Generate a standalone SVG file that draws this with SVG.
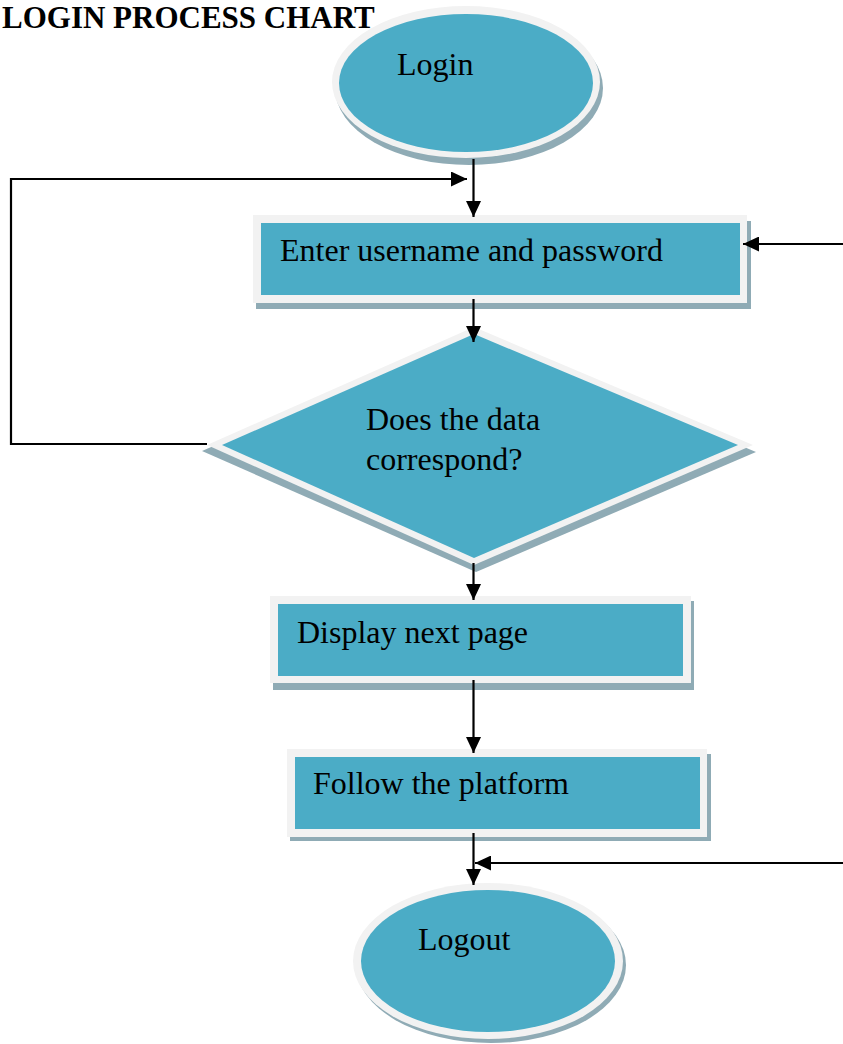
<svg xmlns="http://www.w3.org/2000/svg" width="843" height="1044" viewBox="0 0 843 1044">
<defs>
<style>
.t{font-family:"Liberation Serif","Times New Roman",serif;font-size:32px;fill:#000}
.title{font-family:"Liberation Serif","Times New Roman",serif;font-size:31px;font-weight:bold;fill:#000}
.blue{fill:#4BACC6}
.ring{fill:#F2F2F2}
.shadow{fill:#8FABB5}
.c{fill:none;stroke:#000;stroke-width:2.2}
</style>
<marker id="ah" markerUnits="userSpaceOnUse" markerWidth="16" markerHeight="15" refX="16" refY="7.5" orient="auto">
<path d="M0,0 L16,7.5 L0,15 Z" fill="#000"/>
</marker>
</defs>
<rect width="843" height="1044" fill="#fff"/>
<text class="title" x="2" y="28">LOGIN PROCESS CHART</text>

<g id="login">
<ellipse class="shadow" cx="469" cy="88" rx="134" ry="77"/>
<ellipse class="ring" cx="466" cy="82" rx="134" ry="76"/>
<ellipse class="blue" cx="466" cy="83" rx="127" ry="69"/>
<text class="t" x="397" y="75">Login</text>
</g>

<g id="enter">
<rect class="shadow" x="256" y="221" width="495" height="88"/>
<rect class="ring" x="253" y="215" width="494" height="88"/>
<rect class="blue" x="261" y="223" width="479" height="72"/>
<text class="t" x="280" y="261">Enter username and password</text>
</g>

<g id="decision">
<polygon class="shadow" points="202,451 474,333 756,452 476,572"/>
<polygon class="ring" points="207,445 474,327 753,445 474,565"/>
<polygon class="blue" points="222,445 474,334 738,445 474,558"/>
<text class="t" x="366" y="430">Does the data</text>
<text class="t" x="366" y="470">correspond?</text>
</g>

<g id="display">
<rect class="shadow" x="273" y="601" width="421" height="89"/>
<rect class="ring" x="270" y="596" width="421" height="87"/>
<rect class="blue" x="278" y="604" width="405" height="72"/>
<text class="t" x="297" y="643">Display next page</text>
</g>

<g id="follow">
<rect class="shadow" x="290" y="754" width="421" height="87"/>
<rect class="ring" x="287" y="749" width="420" height="88"/>
<rect class="blue" x="295" y="757" width="405" height="72"/>
<text class="t" x="313" y="794">Follow the platform</text>
</g>

<g id="logout">
<ellipse class="shadow" cx="491" cy="965" rx="135" ry="78"/>
<ellipse class="ring" cx="488" cy="961" rx="135" ry="78"/>
<ellipse class="blue" cx="488" cy="961" rx="127" ry="71"/>
<text class="t" x="418" y="950">Logout</text>
</g>

<g id="connectors">
<line class="c" x1="473.5" y1="159" x2="473.5" y2="217" marker-end="url(#ah)"/>
<polyline class="c" points="207,444 11,444 11,179 467,179" marker-end="url(#ah)"/>
<line class="c" x1="843" y1="244" x2="743" y2="244" marker-end="url(#ah)"/>
<line class="c" x1="473.5" y1="299" x2="473.5" y2="342" marker-end="url(#ah)"/>
<line class="c" x1="473.5" y1="563" x2="473.5" y2="600" marker-end="url(#ah)"/>
<line class="c" x1="473.5" y1="680" x2="473.5" y2="753" marker-end="url(#ah)"/>
<line class="c" x1="473.5" y1="833" x2="473.5" y2="885" marker-end="url(#ah)"/>
<line class="c" x1="843" y1="863" x2="475" y2="863" marker-end="url(#ah)"/>
</g>
</svg>
